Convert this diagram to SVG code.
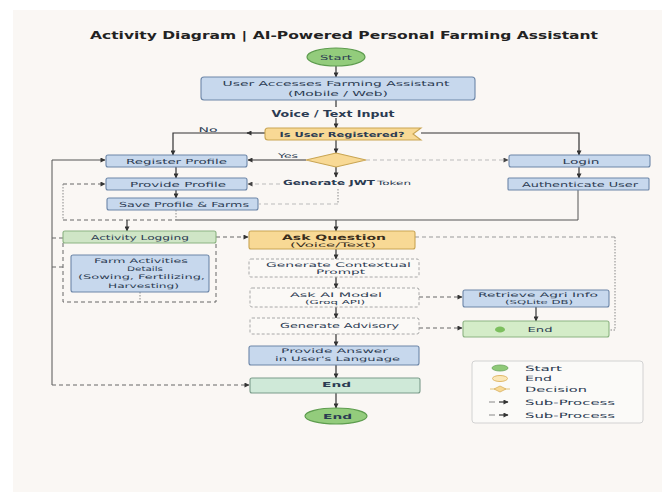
<svg xmlns="http://www.w3.org/2000/svg" width="662" height="492" viewBox="0 0 662 492">
<defs>
<marker id="ah" viewBox="0 0 10 10" refX="9" refY="5" markerWidth="7" markerHeight="5" markerUnits="userSpaceOnUse" orient="auto"><path d="M0,0 L10,5 L0,10 Z" fill="#333"/></marker>
<marker id="ahg" viewBox="0 0 10 10" refX="9" refY="5" markerWidth="7" markerHeight="5" markerUnits="userSpaceOnUse" orient="auto"><path d="M0,0 L10,5 L0,10 Z" fill="#444"/></marker>
</defs>
<style>
text{font-family:"DejaVu Sans","Liberation Sans",sans-serif;fill:#2b3b52;font-size:7px;text-anchor:middle;}
.b{font-weight:bold;}
.s{font-size:6.3px;}
.blue{fill:#c7d8ed;stroke:#6c86a8;stroke-width:1.1;}
.yel{fill:#f8d995;stroke:#c9a553;stroke-width:1.1;}
.grn{fill:#cfe5c6;stroke:#8bb381;stroke-width:1.1;}
.mint{fill:#cfe9d8;stroke:#7b9c8a;stroke-width:1.1;}
.oval{fill:#93cc7c;stroke:#5d9c4e;stroke-width:1.2;}
.dbox{fill:#fbf9f6;stroke:#a8a8a8;stroke-width:1;stroke-dasharray:3 2;}
.c{fill:none;stroke:#333;stroke-width:1.2;}
.d{fill:none;stroke:#666;stroke-width:1;stroke-dasharray:4 3;}
.l{fill:none;stroke:#bbb;stroke-width:1;stroke-dasharray:4 3;}
.o{fill:none;stroke:#888;stroke-width:1;stroke-dasharray:1.5 1.5;}
.lt{text-anchor:start;font-size:7.3px;}
</style>
<rect x="0" y="0" width="662" height="492" fill="#ffffff"/>
<rect x="13" y="10" width="649" height="482" fill="#faf7f4"/>
<text x="344" y="38.5" class="b" style="font-size:10.5px;fill:#222" textLength="508" lengthAdjust="spacingAndGlyphs">Activity Diagram | AI-Powered Personal Farming Assistant</text>

<g id="connectors">
<line class="c" x1="336" y1="66" x2="336" y2="77" marker-end="url(#ah)"/>
<line class="c" x1="336" y1="100" x2="336" y2="107"/>
<line class="c" x1="336" y1="118" x2="336" y2="128" marker-end="url(#ah)"/>
<line class="c" x1="265" y1="133" x2="247" y2="133" marker-end="url(#ah)"/>
<polyline class="c" points="248,133 173,133 173,155" marker-end="url(#ah)"/>
<polyline class="c" points="421,133 579,133 579,155" marker-end="url(#ah)"/>
<line class="c" x1="336" y1="140" x2="336" y2="153" marker-end="url(#ah)"/>
<line class="c" x1="306" y1="160" x2="248" y2="160" marker-end="url(#ah)"/>
<line class="l" x1="366" y1="160" x2="508" y2="160" marker-end="url(#ahg)"/>
<line class="c" x1="336" y1="167" x2="336" y2="177" marker-end="url(#ah)"/>
<line class="l" x1="280" y1="184" x2="248" y2="184" marker-end="url(#ahg)"/>
<polyline class="o" points="338,189 338,204"/>
<line class="l" x1="338" y1="204" x2="259" y2="204"/>
<line class="c" x1="176" y1="167" x2="176" y2="178" marker-end="url(#ah)"/>
<line class="c" x1="176" y1="190" x2="176" y2="198" marker-end="url(#ah)"/>
<line class="c" x1="579" y1="167" x2="579" y2="178" marker-end="url(#ah)"/>
<polyline class="c" points="578,190 578,220 176,220" style="stroke:#555;stroke-width:1"/>
<line class="d" x1="63" y1="184" x2="105" y2="184" marker-end="url(#ah)"/>
<line class="o" x1="63" y1="184" x2="63" y2="220"/>
<line class="d" x1="63" y1="220" x2="176" y2="220"/>
<line class="o" x1="176" y1="210" x2="176" y2="220"/>
<line class="c" x1="127" y1="220" x2="127" y2="231" marker-end="url(#ah)"/>
<line class="c" x1="336" y1="220" x2="336" y2="231" marker-end="url(#ah)"/>
<polyline class="c" points="52,385 52,160 105,160" style="stroke:#555;stroke-width:1" marker-end="url(#ah)"/>
<line class="d" x1="52" y1="385" x2="249" y2="385" marker-end="url(#ah)"/>
<line class="d" x1="52" y1="238" x2="63" y2="238"/>
<line class="d" x1="52" y1="267" x2="63" y2="267"/>
<line class="d" x1="216" y1="237" x2="248" y2="237" marker-end="url(#ah)"/>
<path class="d" d="M63,243 V302 H216 V243"/>
<line class="o" x1="140" y1="292" x2="140" y2="302"/>
<line class="c" x1="336" y1="249" x2="336" y2="259" marker-end="url(#ah)"/>
<line class="c" x1="336" y1="277" x2="336" y2="288" marker-end="url(#ah)"/>
<line class="c" x1="336" y1="307" x2="336" y2="318" marker-end="url(#ah)"/>
<line class="c" x1="336" y1="334" x2="336" y2="346" marker-end="url(#ah)"/>
<line class="c" x1="336" y1="365" x2="336" y2="378" marker-end="url(#ah)"/>
<line class="c" x1="336" y1="393" x2="336" y2="408" marker-end="url(#ah)"/>
<line class="d" x1="419" y1="297" x2="462" y2="297" marker-end="url(#ah)"/>
<line class="d" x1="419" y1="328" x2="462" y2="328" marker-end="url(#ah)"/>
<line class="c" x1="536" y1="307" x2="536" y2="321" marker-end="url(#ah)"/>
<line class="l" x1="415" y1="237" x2="615" y2="237" style="stroke:#999"/>
<polyline class="o" points="615,237 615,330 609,330"/>
</g>

<g id="start"><ellipse class="oval" cx="336" cy="57" rx="29" ry="9"/><text x="336" y="59.5" textLength="32" lengthAdjust="spacingAndGlyphs">Start</text></g>
<g id="access"><rect class="blue" x="201" y="77" width="274" height="23" rx="3"/><text x="336" y="86.3" textLength="227" lengthAdjust="spacingAndGlyphs">User Accesses Farming Assistant</text><text x="338" y="95.5" textLength="100" lengthAdjust="spacingAndGlyphs">(Mobile / Web)</text></g>
<g id="voice-input"><text x="333" y="116.5" class="b" style="font-size:8.5px" textLength="123" lengthAdjust="spacingAndGlyphs">Voice / Text Input</text></g>
<g id="registered"><path class="yel" d="M268,128 H421 L413,134 L421,140 H268 Q265,140 265,137 V131 Q265,128 268,128 Z"/><text x="342" y="136.8" class="b" textLength="125" lengthAdjust="spacingAndGlyphs">Is User Registered?</text></g>
<text x="208" y="131.5" style="font-size:6.5px" textLength="19" lengthAdjust="spacingAndGlyphs">No</text>
<text x="288" y="157.5" style="font-size:6.5px" textLength="20" lengthAdjust="spacingAndGlyphs">Yes</text>
<g id="decision"><polygon class="yel" points="336,153 366,160 336,167 306,160"/></g>
<g id="register"><rect class="blue" x="106" y="155" width="141" height="12" rx="2"/><text x="176.5" y="163.5" textLength="101" lengthAdjust="spacingAndGlyphs">Register Profile</text></g>
<g id="provide"><rect class="blue" x="106" y="178" width="141" height="12" rx="2"/><text x="178" y="186.5" textLength="96" lengthAdjust="spacingAndGlyphs">Provide Profile</text></g>
<g id="save"><rect class="blue" x="107" y="198" width="151" height="12" rx="2"/><text x="184" y="206.5" textLength="130" lengthAdjust="spacingAndGlyphs">Save Profile &amp; Farms</text></g>
<g id="jwt"><text x="329" y="184.8" class="b" textLength="92" lengthAdjust="spacingAndGlyphs">Generate JWT</text><text x="394" y="184.8" style="font-size:6px" textLength="34" lengthAdjust="spacingAndGlyphs">Token</text></g>
<g id="login"><rect class="blue" x="509" y="155" width="141" height="12" rx="2"/><text x="581" y="163.5" textLength="37" lengthAdjust="spacingAndGlyphs">Login</text></g>
<g id="auth"><rect class="blue" x="508" y="178" width="141" height="12" rx="1"/><text x="580" y="186.5" textLength="116" lengthAdjust="spacingAndGlyphs">Authenticate User</text></g>
<g id="activity-logging"><rect class="grn" x="63" y="231" width="153" height="12" rx="2"/><text x="140" y="239.5" textLength="98" lengthAdjust="spacingAndGlyphs">Activity Logging</text></g>
<g id="farm-activities"><rect class="blue" x="71" y="255" width="138" height="37" rx="2"/><text class="s" x="141" y="263.3" textLength="94" lengthAdjust="spacingAndGlyphs">Farm Activities</text><text class="s" x="145" y="271.3" textLength="36" lengthAdjust="spacingAndGlyphs">Details</text><text class="s" x="141.5" y="279.3" textLength="127" lengthAdjust="spacingAndGlyphs">(Sowing, Fertilizing,</text><text class="s" x="143.5" y="288" textLength="71" lengthAdjust="spacingAndGlyphs">Harvesting)</text></g>
<g id="ask-question"><rect class="yel" x="249" y="231" width="166" height="18" rx="2"/><text x="334" y="239.5" class="b" style="font-size:7.5px;fill:#3a2e1c" textLength="104" lengthAdjust="spacingAndGlyphs">Ask Question</text><text class="s" x="333" y="246.8" style="fill:#3a2e1c" textLength="86" lengthAdjust="spacingAndGlyphs">(Voice/Text)</text></g>
<g id="contextual"><rect class="dbox" x="249" y="259" width="170" height="18" rx="2"/><text class="s" x="338.5" y="267" textLength="145" lengthAdjust="spacingAndGlyphs">Generate Contextual</text><text class="s" x="340.5" y="274.3" textLength="49" lengthAdjust="spacingAndGlyphs">Prompt</text></g>
<g id="ask-ai"><rect class="dbox" x="250" y="288" width="169" height="19" rx="2"/><text class="s" x="336" y="297.2" textLength="92" lengthAdjust="spacingAndGlyphs">Ask AI Model</text><text x="335" y="304" style="font-size:5.5px" textLength="60" lengthAdjust="spacingAndGlyphs">(Groq API)</text></g>
<g id="advisory"><rect class="dbox" x="250" y="318" width="169" height="16" rx="2"/><text x="339.5" y="327.5" textLength="119" lengthAdjust="spacingAndGlyphs">Generate Advisory</text></g>
<g id="retrieve"><rect class="blue" x="463" y="290" width="146" height="17" rx="2"/><text class="s" x="538" y="297.2" textLength="120" lengthAdjust="spacingAndGlyphs">Retrieve Agri Info</text><text x="539" y="304.3" style="font-size:5.5px" textLength="68" lengthAdjust="spacingAndGlyphs">(SQLite DB)</text></g>
<g id="end-sub"><rect class="grn" x="463" y="321" width="146" height="16" rx="2" style="fill:#d4ecc8"/><ellipse cx="500" cy="329.5" rx="5" ry="3" fill="#7cbf5e"/><text x="540" y="331.5" textLength="25" lengthAdjust="spacingAndGlyphs">End</text></g>
<g id="answer"><rect class="blue" x="249" y="346" width="170" height="19" rx="2"/><text class="s" x="334.5" y="353.3" textLength="107" lengthAdjust="spacingAndGlyphs">Provide Answer</text><text class="s" x="337.5" y="360.6" textLength="125" lengthAdjust="spacingAndGlyphs">in User's Language</text></g>
<g id="end-rect"><rect class="mint" x="250" y="378" width="170" height="15" rx="2"/><text x="336.5" y="387.2" class="b" textLength="29" lengthAdjust="spacingAndGlyphs">End</text></g>
<g id="end"><ellipse class="oval" cx="336" cy="416" rx="31" ry="8"/><text x="337.5" y="418.6" class="b" textLength="29" lengthAdjust="spacingAndGlyphs">End</text></g>

<g id="legend">
<rect x="472" y="361" width="171" height="62" rx="3" fill="#fbfaf8" stroke="#d2d2d2" stroke-width="1"/>
<ellipse cx="500" cy="368" rx="8" ry="3" fill="#8fc978" stroke="#6aa55a" stroke-width="0.8"/>
<text class="lt" x="525" y="370.5" textLength="37" lengthAdjust="spacingAndGlyphs">Start</text>
<ellipse cx="500" cy="378.5" rx="7.5" ry="3" fill="#fbe7b8" stroke="#e0b868" stroke-width="1"/>
<text class="lt" x="525" y="380.8" textLength="27" lengthAdjust="spacingAndGlyphs">End</text>
<line x1="490" y1="389" x2="510" y2="389" stroke="#e0c27a" stroke-width="1"/>
<polygon points="500,386 506,389 500,392 494,389" fill="#f8d995" stroke="#d8b060" stroke-width="0.8"/>
<text class="lt" x="525" y="391.5" textLength="62" lengthAdjust="spacingAndGlyphs">Decision</text>
<line x1="489" y1="402" x2="495" y2="402" stroke="#888" stroke-width="1"/>
<line x1="499" y1="402" x2="508" y2="402" stroke="#333" stroke-width="1.2" marker-end="url(#ah)"/>
<text class="lt" x="525" y="404.5" textLength="90" lengthAdjust="spacingAndGlyphs">Sub-Process</text>
<line x1="489" y1="415" x2="495" y2="415" stroke="#888" stroke-width="1"/>
<line x1="499" y1="415" x2="508" y2="415" stroke="#333" stroke-width="1.2" marker-end="url(#ah)"/>
<text class="lt" x="525" y="417.5" textLength="90" lengthAdjust="spacingAndGlyphs">Sub-Process</text>
</g>
</svg>
